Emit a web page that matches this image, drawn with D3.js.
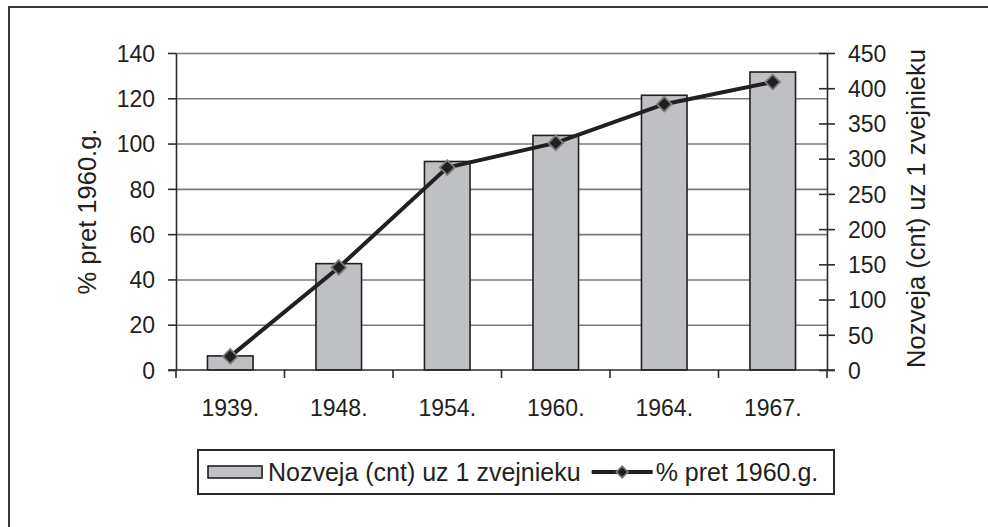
<!DOCTYPE html>
<html>
<head>
<meta charset="utf-8">
<script src="https://cdn.jsdelivr.net/npm/d3@7"></script>
<style>
  html, body { margin: 0; padding: 0; background: #fff; }
  #chart { width: 988px; height: 527px; }
  svg { display: block; font-family: "Liberation Sans", Arial, sans-serif; }
  text { fill: #231f20; }
</style>
</head>
<body>
<div id="chart"><svg width="988" height="527"></svg></div>
<script>
// categories and values
const years = ["1939.", "1948.", "1954.", "1960.", "1964.", "1967."];
const catchPerFisher = [20, 151, 296, 333, 390, 423];      // bars, right axis
const pctOf1960 = [6, 45.3, 89.4, 100.3, 117.4, 127.2];    // line, left axis
const leftTicks = [0, 20, 40, 60, 80, 100, 120, 140];
const rightTicks = [0, 50, 100, 150, 200, 250, 300, 350, 400, 450];
const barName = "Nozveja (cnt) uz 1 zvejnieku";
const lineName = "% pret 1960.g.";

function makeChart() {

    /**********************
    ***** BASIC SETUP *****
    **********************/

    const width = 988;
    const height = 527;
    const margin = {top: 53, left: 176, right: 161, bottom: 157};
    const plotWidth = width - margin.left - margin.right;
    const plotHeight = height - margin.top - margin.bottom;

    const svg = d3.select("#chart").select("svg");
    const ink = "#231f20";

    // outer frame (open to right and bottom like the scan)
    svg.append("rect")
        .attr("x", 9).attr("y", 7)
        .attr("width", width + 20).attr("height", height + 20)
        .attr("fill", "none")
        .attr("stroke", "#3a3a3a")
        .attr("stroke-width", 2);

    /***********************
    ***** X & Y SCALES *****
    ***********************/

    const xScale = d3.scaleBand()
        .domain(years)
        .range([0, plotWidth])
        .padding(0);

    const yLeft = d3.scaleLinear()
        .domain([0, 140])
        .range([plotHeight, 0]);

    const yRight = d3.scaleLinear()
        .domain([0, 450])
        .range([plotHeight, 0]);

    const plot = svg.append("g")
        .attr("transform", `translate(${margin.left}, ${margin.top})`);

    /********************
    ***** GRIDLINES *****
    ********************/

    plot.append("g")
        .attr("class", "grid")
        .call(d3.axisLeft(yLeft)
            .tickValues(leftTicks.slice(1))
            .tickSize(-plotWidth)
            .tickFormat(""))
        .call(g => g.select(".domain").remove())
        .call(g => g.selectAll("line")
            .attr("stroke", "#7a7a7a")
            .attr("stroke-width", 1.6));

    /***************
    ***** BARS *****
    ***************/

    const barW = xScale.bandwidth() * 0.42;

    plot.selectAll(".bar")
        .data(years)
        .enter()
        .append("rect")
        .attr("class", "bar")
        .attr("x", d => xScale(d) + (xScale.bandwidth() - barW) / 2)
        .attr("y", (d, i) => yRight(catchPerFisher[i]))
        .attr("width", barW)
        .attr("height", (d, i) => plotHeight - yRight(catchPerFisher[i]))
        .attr("fill", "#bfc0c4")
        .attr("stroke", ink)
        .attr("stroke-width", 1.6);

    /*********************
    ***** X & Y AXES *****
    *********************/

    const axisStyle = g => {
        g.select(".domain").attr("stroke", "#2b2b2b").attr("stroke-width", 1.6);
        g.selectAll(".tick line").attr("stroke", "#2b2b2b").attr("stroke-width", 1.6);
        g.selectAll(".tick text")
            .attr("fill", ink)
            .style("font-size", "23px");
    };

    plot.append("g")
        .attr("class", "yAxis")
        .call(d3.axisLeft(yLeft)
            .tickValues(leftTicks)
            .tickSize(8)
            .tickSizeOuter(0)
            .tickPadding(13))
        .call(axisStyle)
        .call(g => g.selectAll(".tick text").attr("dy", "0.36em"));

    const yAxisR = plot.append("g")
        .attr("class", "yAxisR")
        .attr("transform", `translate(${plotWidth}, 0)`)
        .call(d3.axisRight(yRight)
            .tickValues(rightTicks)
            .tickSize(8)
            .tickSizeOuter(0)
            .tickPadding(13))
        .call(axisStyle)
        .call(g => g.selectAll(".tick text").attr("dy", "0.36em"));
    // cross ticks on the right axis
    yAxisR.selectAll(".tick line").attr("x1", -8);

    // x axis: ticks at category boundaries
    const xAxis = plot.append("g")
        .attr("class", "xAxis")
        .attr("transform", `translate(0, ${plotHeight})`);

    xAxis.append("line")
        .attr("x1", -8).attr("x2", plotWidth + 8)
        .attr("stroke", "#2b2b2b").attr("stroke-width", 1.6);

    const bounds = years.map(d => xScale(d)).concat([plotWidth]);
    xAxis.selectAll(".xtick")
        .data(bounds)
        .enter()
        .append("line")
        .attr("class", "xtick")
        .attr("x1", d => d).attr("x2", d => d)
        .attr("y1", 0).attr("y2", 8)
        .attr("stroke", "#2b2b2b").attr("stroke-width", 1.6);

    xAxis.selectAll(".xlabel")
        .data(years)
        .enter()
        .append("text")
        .attr("class", "xlabel")
        .attr("x", d => xScale(d) + xScale.bandwidth() / 2)
        .attr("y", 46)
        .attr("text-anchor", "middle")
        .style("font-size", "23px")
        .text(d => d);

    /***************
    ***** LINE *****
    ***************/

    const xMid = d => xScale(d) + xScale.bandwidth() / 2;

    const line = d3.line()
        .x(d => xMid(d))
        .y((d, i) => yLeft(pctOf1960[i]));

    plot.append("path")
        .datum(years)
        .attr("fill", "none")
        .attr("stroke", ink)
        .attr("stroke-width", 4)
        .attr("d", line);

    const diamond = d3.symbol().type(d3.symbolSquare).size(110);

    plot.selectAll(".marker")
        .data(years)
        .enter()
        .append("path")
        .attr("class", "marker")
        .attr("d", diamond)
        .attr("transform", (d, i) => `translate(${xMid(d)}, ${yLeft(pctOf1960[i])}) rotate(45)`)
        .attr("fill", ink)
        .attr("stroke", "#7d7d7d")
        .attr("stroke-width", 1.8);

    /*********************
    ***** AXIS TITLES ****
    *********************/

    svg.append("text")
        .attr("transform", `translate(96, ${margin.top + plotHeight / 2}) rotate(-90)`)
        .attr("text-anchor", "middle")
        .style("font-size", "25.5px")
        .text(lineName);

    svg.append("text")
        .attr("transform", `translate(925, ${margin.top + plotHeight / 2 - 3}) rotate(-90)`)
        .attr("text-anchor", "middle")
        .style("font-size", "25.5px")
        .text(barName);

    /*****************
    ***** LEGEND *****
    *****************/

    const legend = svg.append("g").attr("id", "legend");

    legend.append("rect")
        .attr("x", 198).attr("y", 450)
        .attr("width", 636).attr("height", 44)
        .attr("fill", "#fff")
        .attr("stroke", "#2b2b2b")
        .attr("stroke-width", 2);

    legend.append("rect")
        .attr("x", 208).attr("y", 466)
        .attr("width", 54).attr("height", 12)
        .attr("fill", "#bfc0c4")
        .attr("stroke", ink)
        .attr("stroke-width", 1.6);

    const t1 = legend.append("text")
        .attr("x", 268).attr("y", 481)
        .style("font-size", "25px")
        .text(barName);

    const lx = 268 + t1.node().getComputedTextLength() + 11;

    legend.append("line")
        .attr("x1", lx).attr("x2", lx + 61)
        .attr("y1", 472).attr("y2", 472)
        .attr("stroke", ink)
        .attr("stroke-width", 4);

    legend.append("path")
        .attr("d", d3.symbol().type(d3.symbolSquare).size(70))
        .attr("transform", `translate(${lx + 30.5}, 472) rotate(45)`)
        .attr("fill", ink)
        .attr("stroke", "#7d7d7d")
        .attr("stroke-width", 1.5);

    legend.append("text")
        .attr("x", lx + 64).attr("y", 481)
        .style("font-size", "25px")
        .text(lineName);
}

makeChart();
</script>
</body>
</html>
